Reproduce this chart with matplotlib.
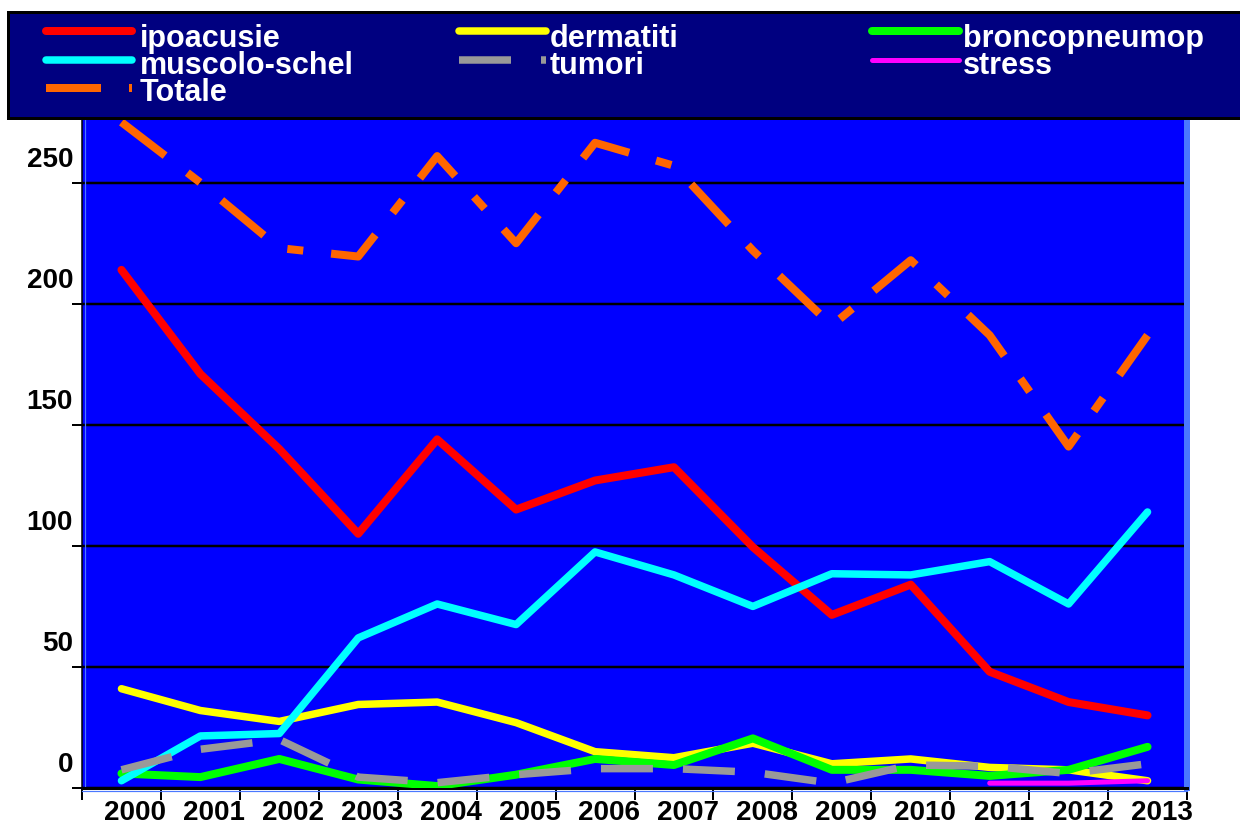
"""Malattie professionali denunciate per anno, 2000-2013."""

import numpy as np
import matplotlib
matplotlib.use("Agg")
import matplotlib.pyplot as plt
import matplotlib.transforms as mtransforms
from matplotlib.lines import Line2D
from matplotlib.patches import Rectangle

# data
years = [2000, 2001, 2002, 2003, 2004, 2005, 2006,
         2007, 2008, 2009, 2010, 2011, 2012, 2013]
ipoacusie = [214, 171, 140, 105, 144, 115, 127, 132.5, 99.5, 71.5, 84, 48, 35.5, 30]
dermatiti = [41, 32, 27.5, 34.5, 35.5, 27, 15, 12.5, 18.5, 10, 12, 8.5, 7.5, 3]
broncopneumop = [6, 4.5, 12, 3.5, 0.8, 5.5, 12, 9.5, 20.5, 7.5, 7.5, 5, 7.5, 17]
muscolo_schel = [3, 21.5, 22.5, 62, 76, 67.5, 97.5, 88, 75, 88.5, 88, 93.5, 76, 114]
tumori = [7.5, 16, 20, 4.5, 2.2, 5.5, 8, 8, 6.5, 2, 9.5, 9, 6, 10]
stress = [np.nan] * 11 + [2, 2, 3]
totale = [275, 250, 223, 219.5, 261, 225, 266.5, 257, 222, 191, 218, 187, 141, 187]
y_ticks = [0, 50, 100, 150, 200, 250]

W, H, DPI = 1240, 825, 100
PX = 72 / DPI  # points per pixel

plt.rcParams["font.family"] = ["Liberation Sans", "DejaVu Sans"]
plt.rcParams["lines.scale_dashes"] = False


def px(v):
    return v * PX


# label, values, color, width (px), dashes (px) or None
series = [
    ("ipoacusie", ipoacusie, "#ff0000", 8, None),
    ("dermatiti", dermatiti, "#ffff00", 7.5, None),
    ("broncopneumop", broncopneumop, "#00ff00", 8, None),
    ("muscolo-schel", muscolo_schel, "#00ffff", 7.5, None),
    ("tumori", tumori, "#999999", 7.5, (52, 30)),
    ("stress", stress, "#ff00ff", 5, None),
    ("Totale", totale, "#ff6600", 8, (55, 28, 16, 28)),
]


def line_kw(color, width, dashes):
    kw = dict(color=color, lw=px(width), solid_capstyle="round",
              solid_joinstyle="round", dash_capstyle="butt")
    if dashes is not None:
        kw["linestyle"] = (0, tuple(px(d) for d in dashes))
    return kw


def shifted(base, dx, dy):
    return base + mtransforms.ScaledTranslation(dx / DPI, dy / DPI, fig.dpi_scale_trans)


fig = plt.figure(figsize=(W / DPI, H / DPI), dpi=DPI)
ax = fig.add_axes([82 / W, 37 / H, 1105 / W, 669.7 / H])
ax.set_facecolor("#0000ff")
ax.set_xlim(0, len(years))
ax.set_ylim(0, 276.6)

x = np.arange(len(years)) + 0.5
for z, (label, vals, color, width, dashes) in enumerate(series):
    ax.plot(x, vals, zorder=3 + z, **line_kw(color, width, dashes))

# axes frame: black axis lines plus the light-blue bevel of the plot area
ax.spines["top"].set_visible(False)
ax.spines["right"].set_color("#4a78ff")
ax.spines["right"].set_linewidth(px(6))
ax.spines["left"].set_color("black")
ax.spines["left"].set_linewidth(px(1.5))
ax.spines["bottom"].set_color("black")
ax.spines["bottom"].set_linewidth(px(3))
ax.add_line(Line2D([0, 0], [0, 1], transform=shifted(ax.transAxes, 2.5, 0),
                   color="#4a78ff", lw=px(1.2), zorder=2.5))
ax.add_line(Line2D([0, 1], [0, 0], transform=shifted(ax.transAxes, 0, -2.5),
                   color="#4a78ff", lw=px(1.2), zorder=2.5, clip_on=False))

ax.set_xticks(np.arange(len(years) + 1))
ax.set_yticks(y_ticks)
ax.tick_params(axis="x", direction="out", length=px(12), width=px(2),
               color="black", labelbottom=False)
ax.tick_params(axis="y", direction="out", length=px(10), width=px(2),
               color="black", labelleft=False)
ax.yaxis.grid(True, color="black", lw=px(2.5))
ax.set_axisbelow(True)

# tick labels sit shifted from their ticks, as in the original
xlab_tr = shifted(ax.transData, 14, -32)
for xi, yr in zip(x, years):
    ax.text(xi, 0, str(yr), transform=xlab_tr, ha="center", va="baseline",
            fontsize=20, fontweight="bold", color="black", clip_on=False)

ylab_tr = shifted(ax.transData, -9, 16)
for v in y_ticks:
    ax.text(0, v, str(v), transform=ylab_tr, ha="right", va="baseline",
            fontsize=20, fontweight="bold", color="black", clip_on=False)

# legend box drawn by hand to get the tight rows
fig.add_artist(Rectangle((8 / W, 1 - 117.7 / H), (W + 20 - 8) / W, 106 / H,
                         transform=fig.transFigure, facecolor="#000080",
                         edgecolor="black", lw=px(3), zorder=10))

cols = [(46, 132, 139.5), (459, 546, 550), (872, 959, 963)]
rows = [(30.7, 46.7), (60, 73.5), (88.3, 100.7)]
for k, (label, vals, color, width, dashes) in enumerate(series):
    r, c = divmod(k, 3)
    x0, x1, xt = cols[c]
    yl, yb = rows[r]
    fig.add_artist(Line2D([x0 / W, x1 / W], [1 - yl / H, 1 - yl / H],
                          transform=fig.transFigure, zorder=11,
                          **line_kw(color, width, dashes)))
    fig.text(xt / W, 1 - yb / H, label, color="white", fontsize=22,
             fontweight="bold", va="baseline", ha="left", zorder=12)

fig.savefig("out.png", dpi=DPI, facecolor="white")
